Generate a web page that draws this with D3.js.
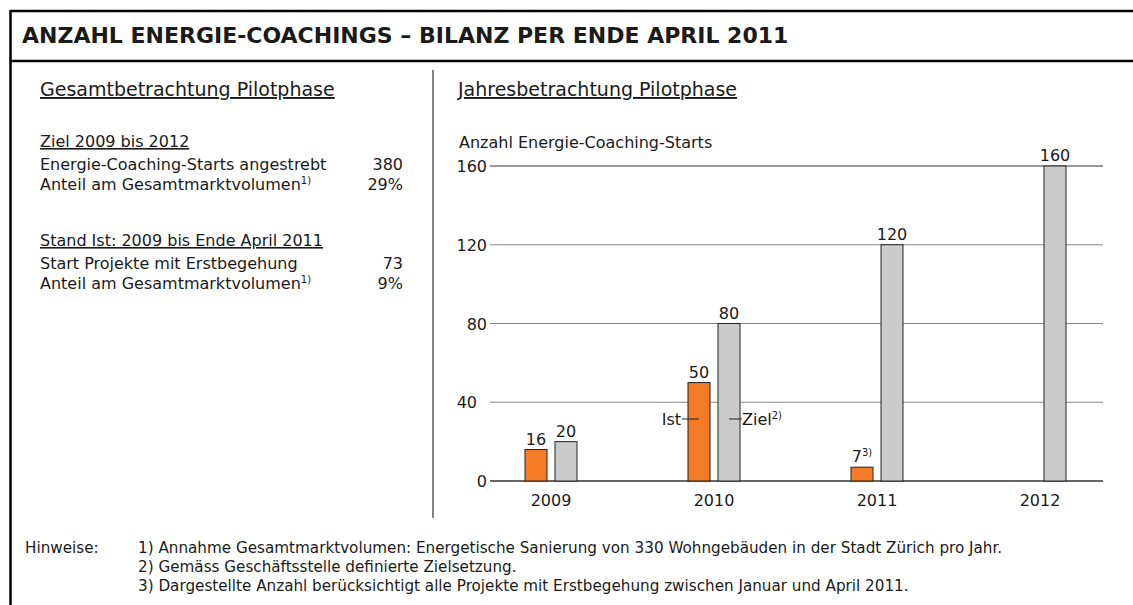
<!DOCTYPE html>
<html>
<head>
<meta charset="utf-8">
<script src="https://cdn.jsdelivr.net/npm/d3@7"></script>
<style type="text/css">
body, html{
  margin:0;
  background:#fff;
}
svg text{
  font-family: "DejaVu Sans", sans-serif;
  fill:#1a1a1a;
}
</style>
</head>
<body>
<svg id="chart" width="1133" height="605"></svg>
<script>
// chart data
var years = ["2009", "2010", "2011", "2012"]
var ist = [16, 50, 7, null]          // Ist, orange
var istNote = ["", "", "3)", ""]
var ziel = [20, 80, 120, 160]        // Ziel, grey
var yTicks = [0, 40, 80, 120, 160]

// left panel
var zielRows = ["Energie-Coaching-Starts angestrebt", "Anteil am Gesamtmarktvolumen"]
var zielVals = ["380", "29%"]
var istRows = ["Start Projekte mit Erstbegehung", "Anteil am Gesamtmarktvolumen"]
var istVals = ["73", "9%"]
var rowNotes = ["", "1)"]
var hinweise = [
  "1) Annahme Gesamtmarktvolumen: Energetische Sanierung von 330 Wohngebäuden in der Stadt Zürich pro Jahr.",
  "2) Gemäss Geschäftsstelle definierte Zielsetzung.",
  "3) Dargestellte Anzahl berücksichtigt alle Projekte mit Erstbegehung zwischen Januar und April 2011."
]

var svg = d3.select('#chart')
var orange = '#f57b27', grey = '#cbcbcb'

/*----- frame -----*/
svg.append('line').attr('x1', 10).attr('x2', 1133).attr('y1', 11).attr('y2', 11).attr('stroke', '#000').attr('stroke-width', 2.5)
svg.append('line').attr('x1', 10).attr('x2', 1133).attr('y1', 61).attr('y2', 61).attr('stroke', '#000').attr('stroke-width', 2.5)
svg.append('line').attr('x1', 10.5).attr('x2', 10.5).attr('y1', 10).attr('y2', 605).attr('stroke', '#000').attr('stroke-width', 2.5)
svg.append('line').attr('x1', 433).attr('x2', 433).attr('y1', 70).attr('y2', 518).attr('stroke', '#333').attr('stroke-width', 1.2)

svg.append('text').attr('x', 22).attr('y', 43)
  .style('font-size', '22px').style('font-weight', 'bold')
  .text('ANZAHL ENERGIE-COACHINGS – BILANZ PER ENDE APRIL 2011')

/*----- left panel -----*/
function heading(x, y, s, size){
  svg.append('text').attr('x', x).attr('y', y)
    .style('font-size', size).style('text-decoration', 'underline')
    .text(s)
}
heading(40, 96, 'Gesamtbetrachtung Pilotphase', '19px')
heading(458, 96, 'Jahresbetrachtung Pilotphase', '19px')
heading(40, 147, 'Ziel 2009 bis 2012', '16px')
heading(40, 246, 'Stand Ist: 2009 bis Ende April 2011', '16px')

function rows(labels, vals, y0){
  labels.forEach(function(l, i){
    var t = svg.append('text').attr('x', 40).attr('y', y0 + i*20).style('font-size', '16px').text(l)
    if(rowNotes[i]) t.append('tspan').attr('dy', -6).style('font-size', '10px').text(rowNotes[i])
    svg.append('text').attr('x', 403).attr('y', y0 + i*20).attr('text-anchor', 'end').style('font-size', '16px').text(vals[i])
  })
}
rows(zielRows, zielVals, 170)
rows(istRows, istVals, 269)

/*----- bar chart -----*/
var x = d3.scalePoint().domain(years).range([551, 1040])
var y = d3.scaleLinear().domain([0, 160]).range([481, 166])
var bw = 22, gap = 4

svg.append('text').attr('x', 459).attr('y', 148).style('font-size', '16px').text('Anzahl Energie-Coaching-Starts')

var grid = svg.append('g')
grid.selectAll('line').data(yTicks).join('line')
  .attr('x1', 490).attr('x2', 1103)
  .attr('y1', function(d){ return y(d) }).attr('y2', function(d){ return y(d) })
  .attr('stroke', function(d){ return (d === 0 || d === 160) ? '#333' : '#888' })
  .attr('stroke-width', function(d){ return d === 0 ? 1.5 : 1.1 })
grid.selectAll('text').data(yTicks).join('text')
  .attr('x', function(d){ return d === 40 ? 477 : 487 })
  .attr('y', function(d){ return y(d) + 6 })
  .attr('text-anchor', 'end').style('font-size', '16px')
  .text(function(d){ return d })

var bars = svg.append('g')
bars.selectAll('rect.ist').data(years.filter(function(d, i){ return ist[i] != null })).join('rect')
  .attr('class', 'ist')
  .attr('x', function(d){ return x(d) - gap - bw })
  .attr('y', function(d){ return y(ist[years.indexOf(d)]) })
  .attr('width', bw)
  .attr('height', function(d){ return y(0) - y(ist[years.indexOf(d)]) })
  .attr('fill', orange).attr('stroke', '#222').attr('stroke-width', 1)
bars.selectAll('rect.ziel').data(years).join('rect')
  .attr('class', 'ziel')
  .attr('x', function(d){ return x(d) + gap })
  .attr('y', function(d, i){ return y(ziel[i]) })
  .attr('width', bw)
  .attr('height', function(d, i){ return y(0) - y(ziel[i]) })
  .attr('fill', grey).attr('stroke', '#222').attr('stroke-width', 1)

// value labels
years.forEach(function(d, i){
  if(ist[i] != null){
    var t = svg.append('text').attr('x', x(d) - gap - bw/2).attr('y', y(ist[i]) - 5)
      .attr('text-anchor', 'middle').style('font-size', '16px').text(ist[i])
    if(istNote[i]) t.append('tspan').attr('dy', -6).style('font-size', '10px').text(istNote[i])
  }
  svg.append('text').attr('x', x(d) + gap + bw/2).attr('y', y(ziel[i]) - 5)
    .attr('text-anchor', 'middle').style('font-size', '16px').text(ziel[i])
  svg.append('text').attr('x', x(d)).attr('y', 506)
    .attr('text-anchor', 'middle').style('font-size', '16px').text(d)
})

// Ist / Ziel callouts on 2010 bars
var cy = y(31.5), cx = x('2010')
svg.append('line').attr('x1', cx - 32).attr('x2', cx - 15).attr('y1', cy).attr('y2', cy).attr('stroke', '#222')
svg.append('line').attr('x1', cx + 15).attr('x2', cx + 28).attr('y1', cy).attr('y2', cy).attr('stroke', '#222')
svg.append('text').attr('x', cx - 33).attr('y', cy + 6).attr('text-anchor', 'end').style('font-size', '16px').text('Ist')
var zt = svg.append('text').attr('x', cx + 28).attr('y', cy + 6).style('font-size', '16px').text('Ziel')
zt.append('tspan').attr('dy', -6).style('font-size', '10px').text('2)')

/*----- footnotes -----*/
svg.append('text').attr('x', 25).attr('y', 553).style('font-size', '15.2px').text('Hinweise:')
svg.selectAll('text.hw').data(hinweise).join('text')
  .attr('class', 'hw')
  .attr('x', 138).attr('y', function(d, i){ return 553 + i*19 })
  .style('font-size', '15.2px')
  .text(function(d){ return d })
</script>
</body>
</html>
